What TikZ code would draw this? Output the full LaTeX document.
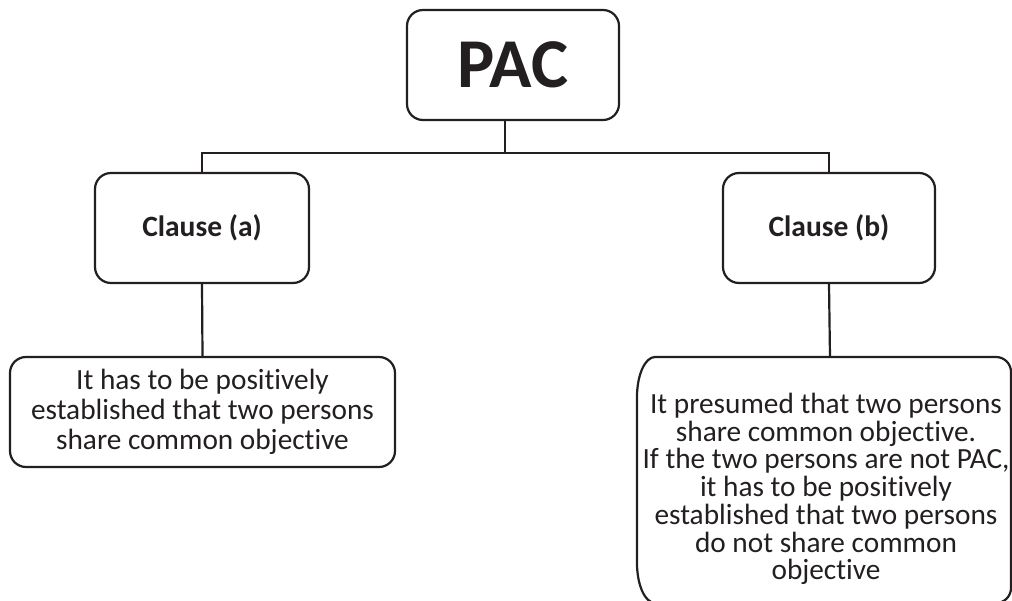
\documentclass[tikz,border=0pt]{standalone}
\usepackage{fontspec}
\setmainfont[Ligatures={NoCommon}]{Carlito}
\definecolor{ink}{HTML}{231F20}
\begin{document}
\begin{tikzpicture}[x=1pt,y=1pt,
  box/.style={draw=ink, line width=2.2pt, rounded corners=16pt, inner sep=0pt, text=ink, align=center},
  conn/.style={draw=ink, line width=2.2pt},
  body/.style={text=ink, align=center, inner sep=0pt}]
\useasboundingbox (0,0) rectangle (1012,-601);
\node[box, minimum width=212pt, minimum height=110pt, font=\bfseries\fontsize{70}{70}\selectfont] (pac) at (513,-65) {PAC};
\node[box, minimum width=214pt, minimum height=110pt, font=\bfseries\fontsize{29.5}{30}\selectfont] (ca) at (202,-228) {Clause (a)};
\node[box, minimum width=212pt, minimum height=110pt, font=\bfseries\fontsize{29.5}{30}\selectfont] (cb) at (829,-228) {Clause (b)};
\node[box, minimum width=385pt, minimum height=110pt, font=\fontsize{29.3}{30}\selectfont] (ba) at (202.5,-412) {It has to be positively\\established that two persons\\share common objective};
% box (b): drawn as a path with elliptic corners, text node inside
\draw[conn] (655,-357) -- (996,-357) arc[start angle=90, end angle=0, x radius=15, y radius=15]
  -- (1011,-588) arc[start angle=0, end angle=-90, x radius=15, y radius=15]
  -- (655,-603) arc[start angle=-90, end angle=-180, x radius=18, y radius=40]
  -- (637,-397) arc[start angle=180, end angle=90, x radius=18, y radius=40] -- cycle;
\node[body, font=\fontsize{29.3}{27.7}\selectfont] (bb) at (826,-489) {It presumed that two persons\\share common objective.\\If the two persons are not PAC,\\it has to be positively\\established that two persons\\do not share common\\objective};
\coordinate (bbtop) at (830,-357);
\coordinate (pacout) at ([xshift=-8pt]pac.south);
\coordinate (bus) at (0,-153);
\draw[conn] (pacout) -- (pacout |- bus);
\draw[conn] (ca.north) -- (ca.north |- bus) -- (cb.north |- bus) -- (cb.north);
\draw[conn] (ca.south) -- (ba.north);
\draw[conn] (cb.south) -- (bbtop);
\end{tikzpicture}
\end{document}
